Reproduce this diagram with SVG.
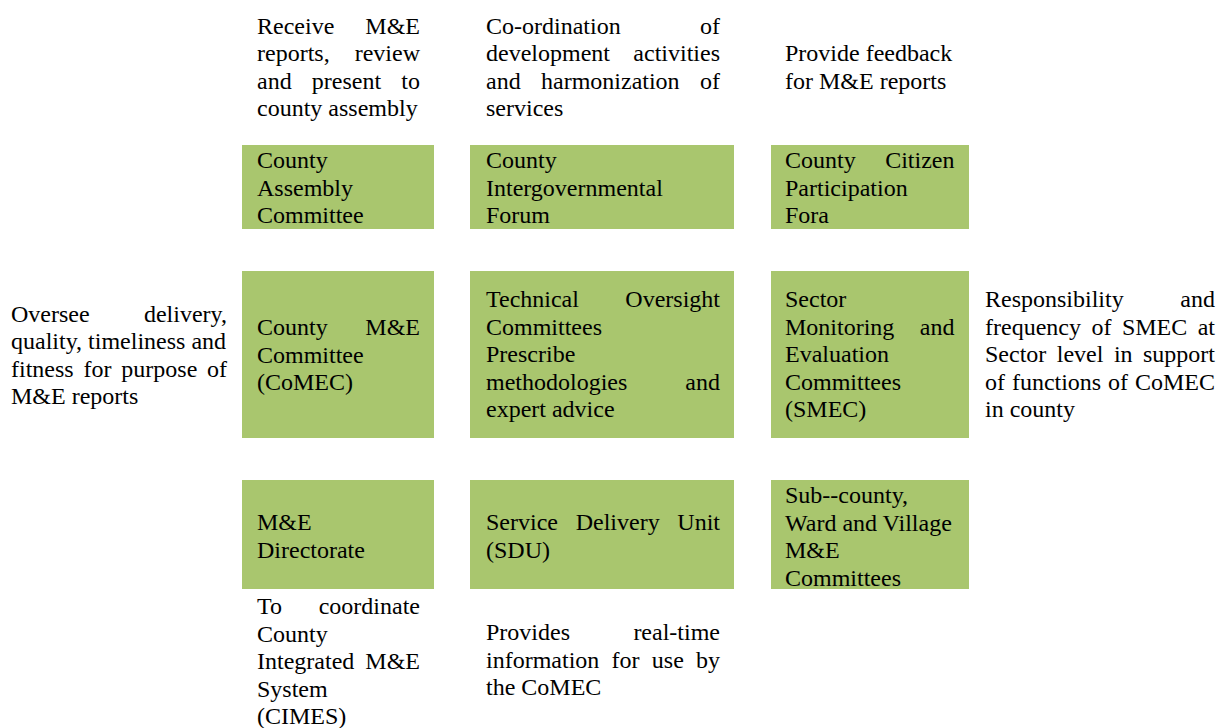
<svg xmlns="http://www.w3.org/2000/svg" width="1222" height="728" viewBox="0 0 1222 728">
<style>
.box{fill:#A9C66E;}
text{font-family:"Liberation Serif","Times New Roman",serif;font-size:24px;fill:#000;}
.r{text-anchor:end;}
</style>
<rect width="1222" height="728" fill="#fff"/>

<g id="note-assembly">
<text x="257" y="33.5">Receive</text><text class="r" x="420" y="33.5">M&amp;E</text>
<text x="257" y="61.1">reports,</text><text class="r" x="420" y="61.1">review</text>
<text x="257" y="88.7">and</text><text x="311.8" y="88.7">present</text><text class="r" x="420" y="88.7">to</text>
<text x="257" y="116.3">county assembly</text>
</g>
<g id="note-forum">
<text x="486" y="33.5">Co-ordination</text><text class="r" x="720" y="33.5">of</text>
<text x="486" y="61.1">development</text><text class="r" x="720" y="61.1">activities</text>
<text x="486" y="88.7">and</text><text x="541" y="88.7">harmonization</text><text class="r" x="720" y="88.7">of</text>
<text x="486" y="116.3">services</text>
</g>
<g id="note-fora">
<text x="785" y="61.1">Provide feedback</text>
<text x="785" y="88.7">for M&amp;E reports</text>
</g>

<g id="county-assembly-committee">
<rect class="box" x="242" y="145" width="192" height="84"/>
<text x="257" y="168">County</text>
<text x="257" y="195.6">Assembly</text>
<text x="257" y="223.2">Committee</text>
</g>
<g id="county-intergovernmental-forum">
<rect class="box" x="470" y="145" width="264" height="84"/>
<text x="486" y="168">County</text>
<text x="486" y="195.6">Intergovernmental</text>
<text x="486" y="223.2">Forum</text>
</g>
<g id="county-citizen-participation-fora">
<rect class="box" x="771" y="145" width="198" height="84"/>
<text x="785" y="168">County</text><text class="r" x="954.5" y="168">Citizen</text>
<text x="785" y="195.6">Participation</text>
<text x="785" y="223.2">Fora</text>
</g>

<g id="note-comec">
<text x="11" y="321.5">Oversee</text><text class="r" x="227" y="321.5">delivery,</text>
<text x="11" y="349.1">quality, timeliness and</text>
<text x="11" y="376.7">fitness</text><text x="83.5" y="376.7">for</text><text x="121.3" y="376.7">purpose</text><text class="r" x="227" y="376.7">of</text>
<text x="11" y="404.3">M&amp;E reports</text>
</g>
<g id="county-me-committee">
<rect class="box" x="242" y="271" width="192" height="167"/>
<text x="257" y="335">County</text><text class="r" x="420" y="335">M&amp;E</text>
<text x="257" y="362.6">Committee</text>
<text x="257" y="390.2">(CoMEC)</text>
</g>
<g id="technical-oversight-committees">
<rect class="box" x="470" y="271" width="264" height="167"/>
<text x="486" y="307">Technical</text><text class="r" x="720" y="307">Oversight</text>
<text x="486" y="334.6">Committees</text>
<text x="486" y="362.2">Prescribe</text>
<text x="486" y="389.8">methodologies</text><text class="r" x="720" y="389.8">and</text>
<text x="486" y="417.4">expert advice</text>
</g>
<g id="smec">
<rect class="box" x="771" y="271" width="198" height="167"/>
<text x="785" y="307">Sector</text>
<text x="785" y="334.6">Monitoring</text><text class="r" x="954.5" y="334.6">and</text>
<text x="785" y="362.2">Evaluation</text>
<text x="785" y="389.8">Committees</text>
<text x="785" y="417.4">(SMEC)</text>
</g>
<g id="note-smec">
<text x="985" y="307">Responsibility</text><text class="r" x="1215" y="307">and</text>
<text x="985" y="334.6">frequency</text><text x="1091.4" y="334.6">of</text><text x="1121.9" y="334.6">SMEC</text><text class="r" x="1215" y="334.6">at</text>
<text x="985" y="362.2">Sector</text><text x="1056.8" y="362.2">level</text><text x="1113.9" y="362.2">in</text><text class="r" x="1215" y="362.2">support</text>
<text x="985" y="389.8">of</text><text x="1011.9" y="389.8">functions</text><text x="1108.1" y="389.8">of</text><text class="r" x="1215" y="389.8">CoMEC</text>
<text x="985" y="417.4">in county</text>
</g>

<g id="me-directorate">
<rect class="box" x="242" y="480" width="192" height="109"/>
<text x="257" y="530">M&amp;E</text>
<text x="257" y="557.6">Directorate</text>
</g>
<g id="service-delivery-unit">
<rect class="box" x="470" y="480" width="264" height="109"/>
<text x="486" y="530">Service</text><text x="575.7" y="530">Delivery</text><text class="r" x="720" y="530">Unit</text>
<text x="486" y="557.6">(SDU)</text>
</g>
<g id="subcounty-committees">
<rect class="box" x="771" y="480" width="198" height="109"/>
<text x="785" y="503">Sub--county,</text>
<text x="785" y="530.6">Ward and Village</text>
<text x="785" y="558.2">M&amp;E</text>
<text x="785" y="585.8">Committees</text>
</g>

<g id="note-directorate">
<text x="257" y="614">To</text><text class="r" x="420" y="614">coordinate</text>
<text x="257" y="641.6">County</text>
<text x="257" y="669.2">Integrated</text><text class="r" x="420" y="669.2">M&amp;E</text>
<text x="257" y="696.8">System</text>
<text x="257" y="724.4">(CIMES)</text>
</g>
<g id="note-sdu">
<text x="486" y="640">Provides</text><text class="r" x="720" y="640">real-time</text>
<text x="486" y="667.6">information</text><text x="611.5" y="667.6">for</text><text x="651.8" y="667.6">use</text><text class="r" x="720" y="667.6">by</text>
<text x="486" y="695.2">the CoMEC</text>
</g>
</svg>
